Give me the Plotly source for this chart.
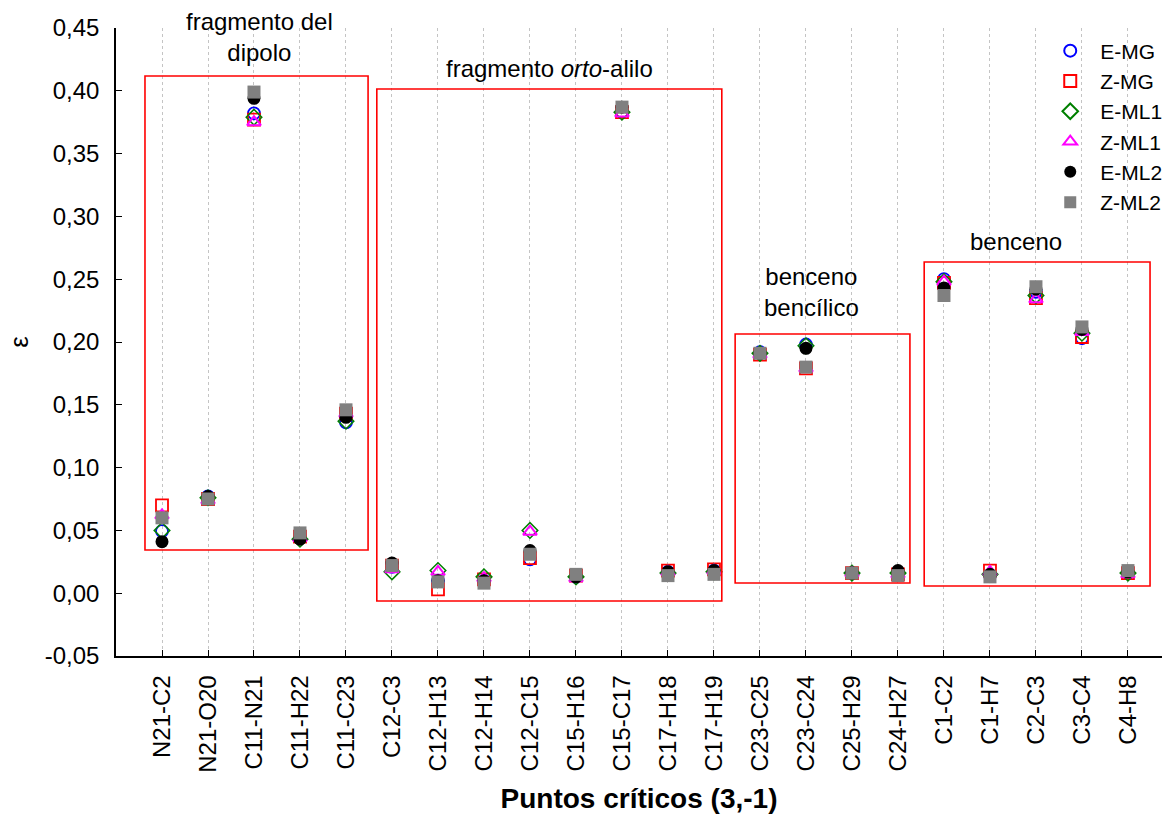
import plotly.graph_objects as go

# Critical points (3,-1)
categories = ["N21-C2", "N21-O20", "C11-N21", "C11-H22", "C11-C23",
              "C12-C3", "C12-H13", "C12-H14", "C12-C15", "C15-H16",
              "C15-C17", "C17-H18", "C17-H19", "C23-C25", "C23-C24",
              "C25-H29", "C24-H27", "C1-C2", "C1-H7", "C2-C3",
              "C3-C4", "C4-H8"]

# Ellipticity per conformer / method
e_mg = [0.0495, 0.077, 0.382, 0.044, 0.136, 0.021, 0.010, 0.010, 0.027, 0.013, 0.383,
        0.017, 0.018, 0.192, 0.198, 0.016, 0.016, 0.250, 0.014, 0.240, 0.203, 0.016]
z_mg = [0.070, 0.075, 0.377, 0.045, 0.143, 0.022, 0.003, 0.011, 0.028, 0.014, 0.383,
        0.018, 0.019, 0.190, 0.179, 0.016, 0.015, 0.247, 0.018, 0.235, 0.204, 0.016]
e_ml1 = [0.050, 0.076, 0.379, 0.043, 0.137, 0.017, 0.018, 0.013, 0.050, 0.013, 0.383,
         0.016, 0.017, 0.191, 0.197, 0.016, 0.016, 0.248, 0.015, 0.237, 0.207, 0.016]
z_ml1 = [0.062, 0.074, 0.375, 0.044, 0.143, 0.019, 0.017, 0.012, 0.049, 0.012, 0.382,
         0.017, 0.018, 0.190, 0.179, 0.016, 0.015, 0.248, 0.017, 0.234, 0.208, 0.015]
e_ml2 = [0.041, 0.077, 0.394, 0.043, 0.140, 0.024, 0.010, 0.010, 0.034, 0.013, 0.387,
         0.017, 0.018, 0.191, 0.195, 0.016, 0.018, 0.243, 0.015, 0.242, 0.210, 0.017]
z_ml2 = [0.060, 0.075, 0.399, 0.048, 0.146, 0.022, 0.009, 0.008, 0.031, 0.015, 0.387,
         0.014, 0.015, 0.191, 0.180, 0.016, 0.014, 0.237, 0.013, 0.244, 0.212, 0.018]

series_names = ["E-MG", "Z-MG", "E-ML1", "Z-ML1", "E-ML2", "Z-ML2"]

y_tickvals = [-0.05, 0.00, 0.05, 0.10, 0.15, 0.20, 0.25, 0.30, 0.35, 0.40, 0.45]
y_ticktext = ["-0,05", "0,00", "0,05", "0,10", "0,15", "0,20",
              "0,25", "0,30", "0,35", "0,40", "0,45"]

# Boxes around structural fragments: (left, right, bottom, top)
fragments = [
    (-0.37, 4.48, 0.0344, 0.4118),
    (4.67, 12.17, -0.0062, 0.4014),
    (12.46, 16.26, 0.0081, 0.2064),
    (16.57, 21.48, 0.0057, 0.2637),
]
fragment_labels = [
    (2.13, 0.4428, "fragmento del<br>dipolo"),
    (8.43, 0.4174, "fragmento <i>orto</i>-alilo"),
    (14.11, 0.2398, "benceno<br>bencílico"),
    (18.57, 0.2803, "benceno"),
]

FONT = "Liberation Sans, Arial, sans-serif"

styles = [
    dict(symbol="circle-open", color="#0000ff", size=12, line=dict(width=1.8, color="#0000ff")),
    dict(symbol="square-open", color="#ff0000", size=12, line=dict(width=1.8, color="#ff0000")),
    dict(symbol="diamond-open", color="#008000", size=12, line=dict(width=1.5, color="#008000")),
    dict(symbol="triangle-up-open", color="#ff00ff", size=12, line=dict(width=2, color="#ff00ff")),
    dict(symbol="circle", color="#000000", size=13, line=dict(width=0)),
    dict(symbol="square", color="#808080", size=13, line=dict(width=0)),
]

fig = go.Figure()
for name, vals, st in zip(series_names, [e_mg, z_mg, e_ml1, z_ml1, e_ml2, z_ml2], styles):
    fig.add_trace(go.Scatter(x=categories, y=vals, mode="markers", name=name,
                             marker=st, cliponaxis=False))

for x0, x1, y0, y1 in fragments:
    fig.add_shape(type="rect", xref="x", yref="y", x0=x0, x1=x1, y0=y0, y1=y1,
                  line=dict(color="#ff0000", width=1.6), fillcolor="rgba(0,0,0,0)")

for x, y, txt in fragment_labels:
    fig.add_annotation(x=x, y=y, xref="x", yref="y", text=txt, showarrow=False,
                       font=dict(family=FONT, size=24, color="black"),
                       xanchor="center", yanchor="middle")

fig.update_layout(
    width=1162, height=814,
    margin=dict(l=116, r=0, t=28, b=158, autoexpand=False),
    paper_bgcolor="white", plot_bgcolor="white",
    font=dict(family=FONT, size=24, color="black"),
    showlegend=True,
    legend=dict(x=0.8836, y=0.996, xanchor="left", yanchor="top",
                bgcolor="rgba(0,0,0,0)", font=dict(size=21),
                tracegroupgap=0, itemwidth=50, itemsizing="constant"),
)

fig.update_xaxes(
    type="category", categoryorder="array", categoryarray=categories,
    range=[-1, 21.74], showline=True, linecolor="black", linewidth=1.5,
    showgrid=True, gridcolor="#c4c4c4", griddash="dot", gridwidth=1,
    ticks="inside", ticklen=6, tickcolor="black", tickwidth=1.2,
    tickangle=-90, tickfont=dict(size=24), ticklabelstandoff=8,
    zeroline=False,
    title=dict(text="<b>Puntos críticos (3,-1)</b>",
               font=dict(family=FONT, size=28),
               standoff=18),
)
fig.update_yaxes(
    range=[-0.05, 0.45], tickvals=y_tickvals, ticktext=y_ticktext,
    showline=True, linecolor="black", linewidth=1.5,
    showgrid=False, zeroline=False,
    ticks="inside", ticklen=6, tickcolor="black", tickwidth=1.2,
    tickfont=dict(size=24), ticklabelstandoff=10,
    title=dict(text="ε", font=dict(size=26), standoff=9),
)

fig.write_html("out.html")
